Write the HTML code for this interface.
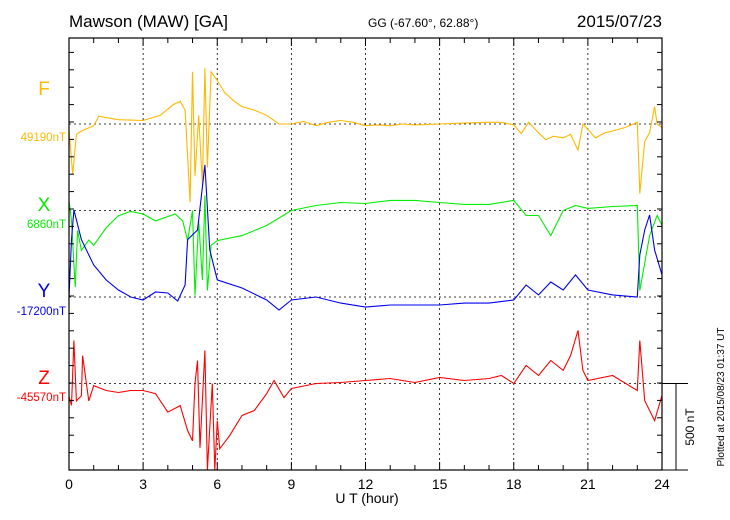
<!DOCTYPE html>
<html><head><meta charset="utf-8"><style>
body{margin:0;background:#fff;}
svg{display:block;font-family:"Liberation Sans",sans-serif;}
</style></head><body>
<svg id="chart" width="730" height="520">
<text x="69" y="27" font-size="17">Mawson (MAW)  [GA]</text>
<text x="368" y="27" font-size="12">GG (-67.60°,  62.88°)</text>
<text x="662" y="27" font-size="17" text-anchor="end">2015/07/23</text>
<text x="367" y="503" font-size="14" text-anchor="middle">U T (hour)</text>
<text transform="translate(724,397) rotate(-90)" font-size="10" text-anchor="middle">Plotted at 2015/08/23 01:37 UT</text>
<g id="grid"></g><g id="series"></g><g id="axes"></g>
</svg>
<script>
const hoursF=[0,0.15,0.3,0.5,1,1.2,2,3,3.7,4.2,4.5,4.7,4.9,5.0,5.1,5.25,5.4,5.5,5.6,5.75,6.0,6.3,6.7,7,7.5,8,8.5,9,9.5,10,10.5,11,11.5,12,12.5,13,13.5,14,15,16,17,17.5,18,18.3,18.6,19,19.3,19.6,20,20.3,20.6,20.8,21,21.3,21.7,22,22.5,23,23.1,23.3,23.5,23.7,23.8,24];
const valsF=[-35,-290,-60,-40,-10,45,25,20,50,110,130,80,-450,300,-300,50,-350,320,-250,300,250,180,130,100,80,50,0,0,15,-10,10,20,10,-10,-5,-10,0,-5,0,5,10,10,-5,-55,10,-50,-90,-70,-80,-60,-150,0,-30,-80,-50,-40,-20,10,-400,-100,-50,100,0,-20];
const hoursX=[0,0.1,0.25,0.35,0.5,0.8,1,1.5,2,2.5,3,3.5,4.3,4.6,4.8,5.0,5.1,5.25,5.4,5.5,5.6,5.75,6,7,8,9,10,11,12,13,14,15,16,17,18,18.5,19,19.5,20,20.5,21,22,23,23.1,23.5,23.8,24];
const valsX=[58,-60,-440,-115,-230,-170,-200,-100,-30,-5,-20,-60,-20,-60,-173,0,-489,-60,-400,86,-460,-200,-173,-144,-86,0,29,46,40,58,58,46,35,35,58,-29,-29,-144,0,29,12,23,29,-460,-144,-29,-86];
const hoursY=[0,0.1,0.2,0.5,1,1.5,2,2.5,3,3.5,4,4.4,4.7,4.8,5.2,5.5,5.7,6,7,8,8.5,9,10,11,12,13,14,15,16,17,18,18.5,19,19.5,20,20.5,21,22,23,23.1,23.3,23.5,23.7,24];
const valsY=[0,330,500,330,184,98,40,0,-17,29,23,-23,69,330,385,759,270,98,52,-17,-75,-17,0,-35,-58,-46,-46,-46,-35,-35,-17,69,12,86,40,127,40,12,0,242,385,472,270,127];
const hoursZ=[0,0.1,0.2,0.3,0.5,0.55,0.8,1,1.5,2,2.5,3,3.5,4,4.5,4.8,5.0,5.1,5.2,5.3,5.5,5.6,5.8,5.9,6,6.1,6.5,7,7.5,8,8.3,8.7,9,10,11,12,13,14,15,16,17,17.5,18,18.5,19,19.5,20,20.3,20.6,20.8,21,22,23,23.1,23.3,23.7,24];
const valsZ=[-75,-125,247,-100,-70,160,-100,-12,-40,-52,-40,-40,-58,-165,-127,-270,-330,0,132,-370,190,-500,0,-500,-213,-375,-300,-184,-155,-58,17,-81,-29,0,6,17,29,6,35,17,29,46,0,104,46,132,75,161,305,75,17,46,-40,247,-98,-213,-69];
const xTicks=["0","3","6","9","12","15","18","21","24"];
const seriesNames=["F","X","Y","Z"];
const baseLabels=["49190nT","6860nT","-17200nT","-45570nT"];
const colors=["#ffb800","#00ee00","#0000ee","#ff0000"];

const L=69,R=662,T=38,B=470,NS="http://www.w3.org/2000/svg";
const baseY=[124,210.5,297,383.5];
const letterY=[95,211,297,384];
const valueY=[141,228,315,401];
const nTperPx=500/87;
const xs=h=>L+(R-L)*h/24;
const ys=(i,v)=>baseY[i]-v/nTperPx;
function mk(tag,attrs,parent){const e=document.createElementNS(NS,tag);for(const k in attrs)e.setAttribute(k,attrs[k]);parent.appendChild(e);return e;}
const grid=document.getElementById('grid'),ser=document.getElementById('series'),ax=document.getElementById('axes');
for(let i=1;i<8;i++){const g=mk('line',{x1:xs(i*3),x2:xs(i*3),y1:T,y2:B,stroke:'#000','stroke-width':0.8,'stroke-dasharray':'2,3'},grid);

}
for(let i=0;i<4;i++){const g=mk('line',{x1:L,x2:R,y1:baseY[i],y2:baseY[i],stroke:'#000','stroke-width':0.8,'stroke-dasharray':'2,3'},grid);


const t1=mk('text',{x:44,y:letterY[i],'font-size':19,'text-anchor':'middle',fill:colors[i]},ax);t1.textContent=seriesNames[i];


const t2=mk('text',{x:66,y:valueY[i],'font-size':11.5,'text-anchor':'end',fill:colors[i]},ax);t2.textContent=baseLabels[i];

}
const H=[hoursF,hoursX,hoursY,hoursZ],V=[valsF,valsX,valsY,valsZ];
for(let i=0;i<4;i++){const d=H[i].map((h,j)=>(j?'L':'M')+xs(h).toFixed(1)+','+Math.max(T,Math.min(B,ys(i,V[i][j]))).toFixed(1)).join('');
const p=mk('path',{d:d,fill:'none',stroke:colors[i],'stroke-width':1.1},ser);

}
const fr=mk('rect',{x:L,y:T,width:R-L,height:B-T,fill:'none',stroke:'#000','stroke-width':1.2},ax);


for(let h=0;h<=24;h++){const len=h%3==0?8:5;
mk('line',{x1:xs(h),x2:xs(h),y1:B,y2:B-len,stroke:'#000'},ax);mk('line',{x1:xs(h),x2:xs(h),y1:T,y2:T+len,stroke:'#000'},ax);}
for(let y=B;y>=T-1;y-=87/5){mk('line',{x1:L,x2:L+5,y1:y,y2:y,stroke:'#000'},ax);mk('line',{x1:R,x2:R-5,y1:y,y2:y,stroke:'#000'},ax);}
xTicks.forEach((s,k)=>{const t=mk('text',{x:xs(k*3),y:489,'font-size':14,'text-anchor':'middle'},ax);t.textContent=s;

});
mk('line',{x1:R,x2:688,y1:baseY[3],y2:baseY[3],stroke:'#000'},ax);
mk('line',{x1:676,x2:676,y1:baseY[3],y2:B,stroke:'#000'},ax);
mk('line',{x1:R,x2:688,y1:B,y2:B,stroke:'#000'},ax);
const sb=mk('text',{transform:'translate(694,427) rotate(-90)','font-size':12,'text-anchor':'middle'},ax);sb.textContent='500 nT';


</script>
</body></html>
